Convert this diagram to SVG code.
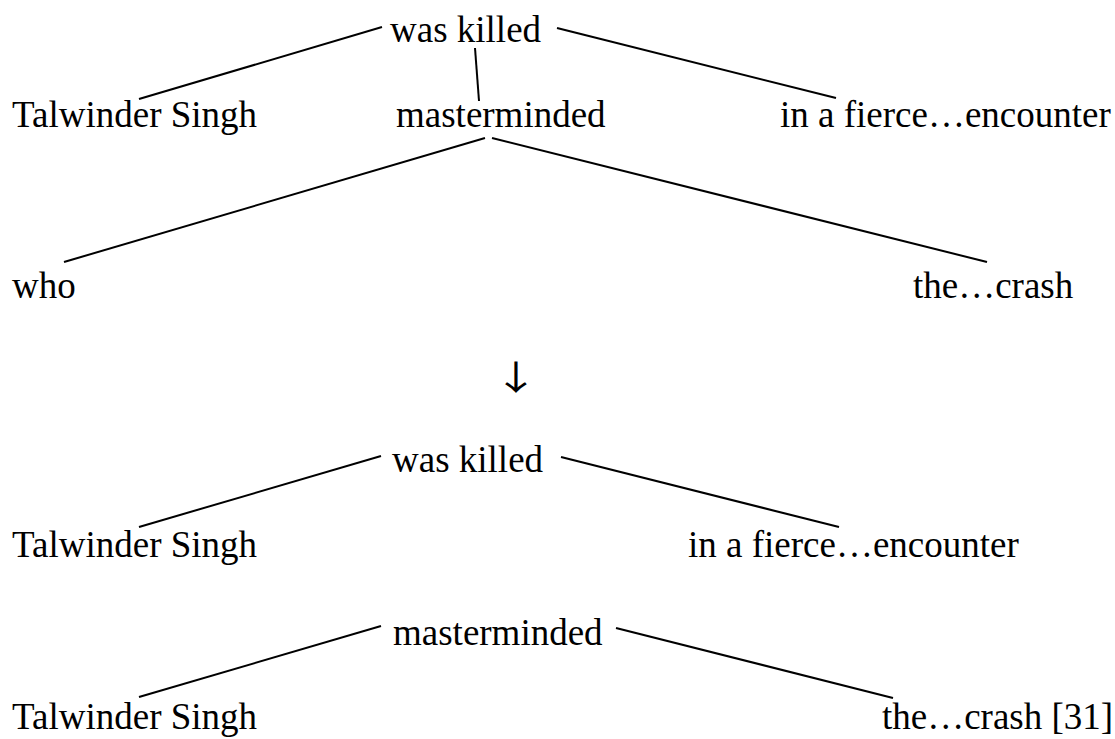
<svg xmlns="http://www.w3.org/2000/svg" width="1115" height="739" viewBox="0 0 1115 739">
  <style>
    .lbl { font-family: 'Liberation Serif', 'Times New Roman', serif; font-size: 37px; fill: #000; }
    .arrow { font-family: 'Noto Sans CJK SC', sans-serif; font-size: 34px; fill: #000; }
    .edge { stroke: #000; stroke-width: 2; fill: none; stroke-linecap: butt; }
  </style>
  <rect width="1115" height="739" fill="#fff"/>

  <!-- upper tree: original structure -->
  <g id="connectors-upper">
    <line class="edge" x1="382" y1="27" x2="139" y2="99"/>
    <line class="edge" x1="557" y1="28" x2="836" y2="98"/>
    <line class="edge" x1="475" y1="48" x2="479" y2="101"/>
    <line class="edge" x1="485" y1="138" x2="64" y2="262"/>
    <line class="edge" x1="492" y1="138" x2="987" y2="262"/>
  </g>
  <g id="n-was-killed-1"><text class="lbl" x="390" y="42">was killed</text></g>
  <g id="n-talwinder-1"><text class="lbl" x="12" y="127">Talwinder Singh</text></g>
  <g id="n-masterminded-1"><text class="lbl" x="396" y="127">masterminded</text></g>
  <g id="n-encounter-1"><text class="lbl" x="780" y="127">in a fierce…encounter</text></g>
  <g id="n-who"><text class="lbl" x="12" y="298">who</text></g>
  <g id="n-crash-1"><text class="lbl" x="913" y="298">the…crash</text></g>

  <!-- transformation arrow, widened slightly -->
  <g id="n-arrow" transform="translate(516,0) scale(1.35,1)">
    <text class="arrow" x="0" y="390" text-anchor="middle">↓</text>
  </g>

  <!-- lower trees: split structures -->
  <g id="connectors-lower">
    <line class="edge" x1="381" y1="456" x2="139" y2="527"/>
    <line class="edge" x1="561" y1="457" x2="839" y2="527"/>
    <line class="edge" x1="381" y1="626" x2="139" y2="697"/>
    <line class="edge" x1="616" y1="628" x2="893" y2="698"/>
  </g>
  <g id="n-was-killed-2"><text class="lbl" x="392" y="472">was killed</text></g>
  <g id="n-talwinder-2"><text class="lbl" x="12" y="557">Talwinder Singh</text></g>
  <g id="n-encounter-2"><text class="lbl" x="688" y="557">in a fierce…encounter</text></g>
  <g id="n-masterminded-2"><text class="lbl" x="393" y="645">masterminded</text></g>
  <g id="n-talwinder-3"><text class="lbl" x="12" y="729">Talwinder Singh</text></g>
  <g id="n-crash-2"><text class="lbl" x="882" y="729">the…crash [31]</text></g>
</svg>
